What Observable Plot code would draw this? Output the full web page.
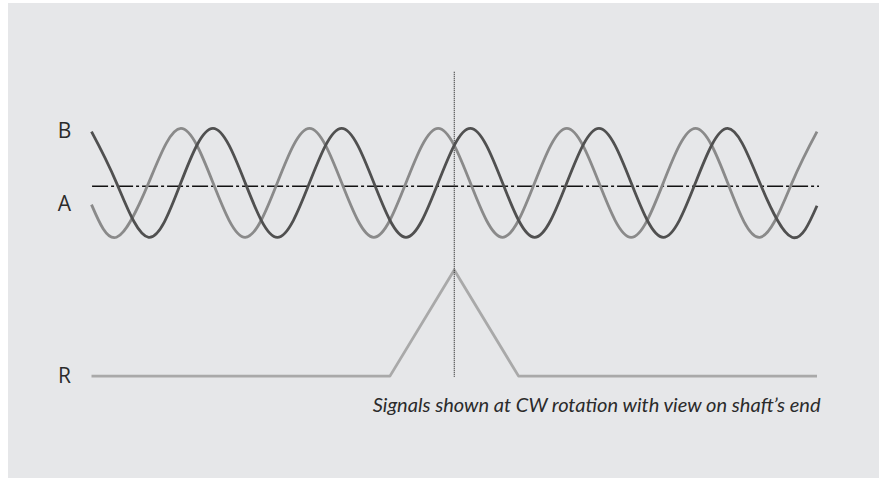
<!DOCTYPE html>
<html><head><meta charset="utf-8">
<script src="https://cdn.jsdelivr.net/npm/d3@7"></script>
<script src="https://cdn.jsdelivr.net/npm/@observablehq/plot@0.6"></script>
<style>
html,body{margin:0;padding:0;background:#fff;}
#wrap{position:relative;width:879px;height:478px;overflow:hidden;}
#panel{position:absolute;left:8px;top:3px;right:0;bottom:0;background:#e6e7e9;}
#chart{position:absolute;left:0;top:0;}
</style></head><body>
<div id="wrap"><div id="panel"></div><div id="chart"></div></div>
<script>
// Shaft angle (electrical degrees) of the read points; 0 = index pulse
const angles = [-1015,-945,-855,-765,-675,-585,-495,-405,-315,-225,-135,-45,45,135,225,315,405,495,585,675,765,855,945,1015];
// Signal A (light grey) and signal B (dark grey), normalised level
const levelA = [-0.4,-1,0,1,0,-1,0,1,0,-1,0,1,0,-1,0,1,0,-1,0,1,0,-1,0,0.94];
const levelB = [0.94,0,-1,0,1,0,-1,0,1,0,-1,0,1,0,-1,0,1,0,-1,0,1,0,-1,-0.42];
// Reference (index) signal R
const rAngles = [-1015,-180,0,180,1015];
const rLevel = [0,0,1,0,0];
// Texts
const signalNames = ["B","A","R"];
const caption = "Signals shown at CW rotation with view on shaft\u2019s end";
const indexAngle = 0;

// layout constants
const rBase = -3.55, rHeight = 1.95, centerLine = -0.062;

const dataA = angles.map((a,i)=>({angle:a, level:levelA[i]}));
const dataB = angles.map((a,i)=>({angle:a, level:levelB[i]}));
const dataR = rAngles.map((a,i)=>({angle:a, level:rBase + rHeight*rLevel[i]}));
const labelData = [
  {name: signalNames[0], level: levelB[0]},
  {name: signalNames[1], level: levelA[0]},
  {name: signalNames[2], level: rBase + rHeight*rLevel[0]}
];

const plot = Plot.plot({
  width: 879, height: 478,
  marginLeft: 91, marginRight: 62.5, marginTop: 46.2, marginBottom: 23.4,
  x: {domain: [angles[0], angles[angles.length-1]], axis: null},
  y: {domain: [-5, 2.5], axis: null},
  style: {background: "transparent", fontFamily: "'Open Sans', sans-serif", overflow: "visible"},
  marks: [
    Plot.ruleY([centerLine], {x1: -1012, x2: 1022, stroke: "#111", strokeWidth: 1.5, strokeDasharray: "16,3,3,3"}),
    Plot.line(dataR, {x: "angle", y: "level", stroke: "#a9a9a9", strokeWidth: 2.8, strokeLinecap: "butt"}),
    Plot.ruleX([indexAngle], {y1: 2.03, y2: -3.57, stroke: "#111", strokeWidth: 1, strokeDasharray: "1,1"}),
    Plot.line(dataA, {x: "angle", y: "level", curve: "natural", stroke: "#8a8a8a", strokeWidth: 2.8, strokeLinecap: "butt"}),
    Plot.line(dataB, {x: "angle", y: "level", curve: "natural", stroke: "#505050", strokeWidth: 2.8, strokeLinecap: "butt"}),
    Plot.text(labelData, {frameAnchor: "left", y: "level", text: "name", dx: -27, textAnchor: "middle", fontSize: 21, fill: "#2b2b2b"}),
    Plot.text([caption], {frameAnchor: "right", y: [-4.095], text: d => d, textAnchor: "end", dx: 3.5, fontSize: 20, fontStyle: "italic", fontFamily: "Lato, 'Open Sans', sans-serif", fill: "#2b2b2b"})
  ]
});
document.getElementById("chart").appendChild(plot);
// fit caption width to the reference
const capEl = Array.from(plot.querySelectorAll("text")).find(t => t.textContent === caption);
if (capEl) {
  const w = capEl.getComputedTextLength();
  if (w > 0) capEl.setAttribute("font-size", (20 * 448 / w).toFixed(2));
}
</script>
</body></html>
